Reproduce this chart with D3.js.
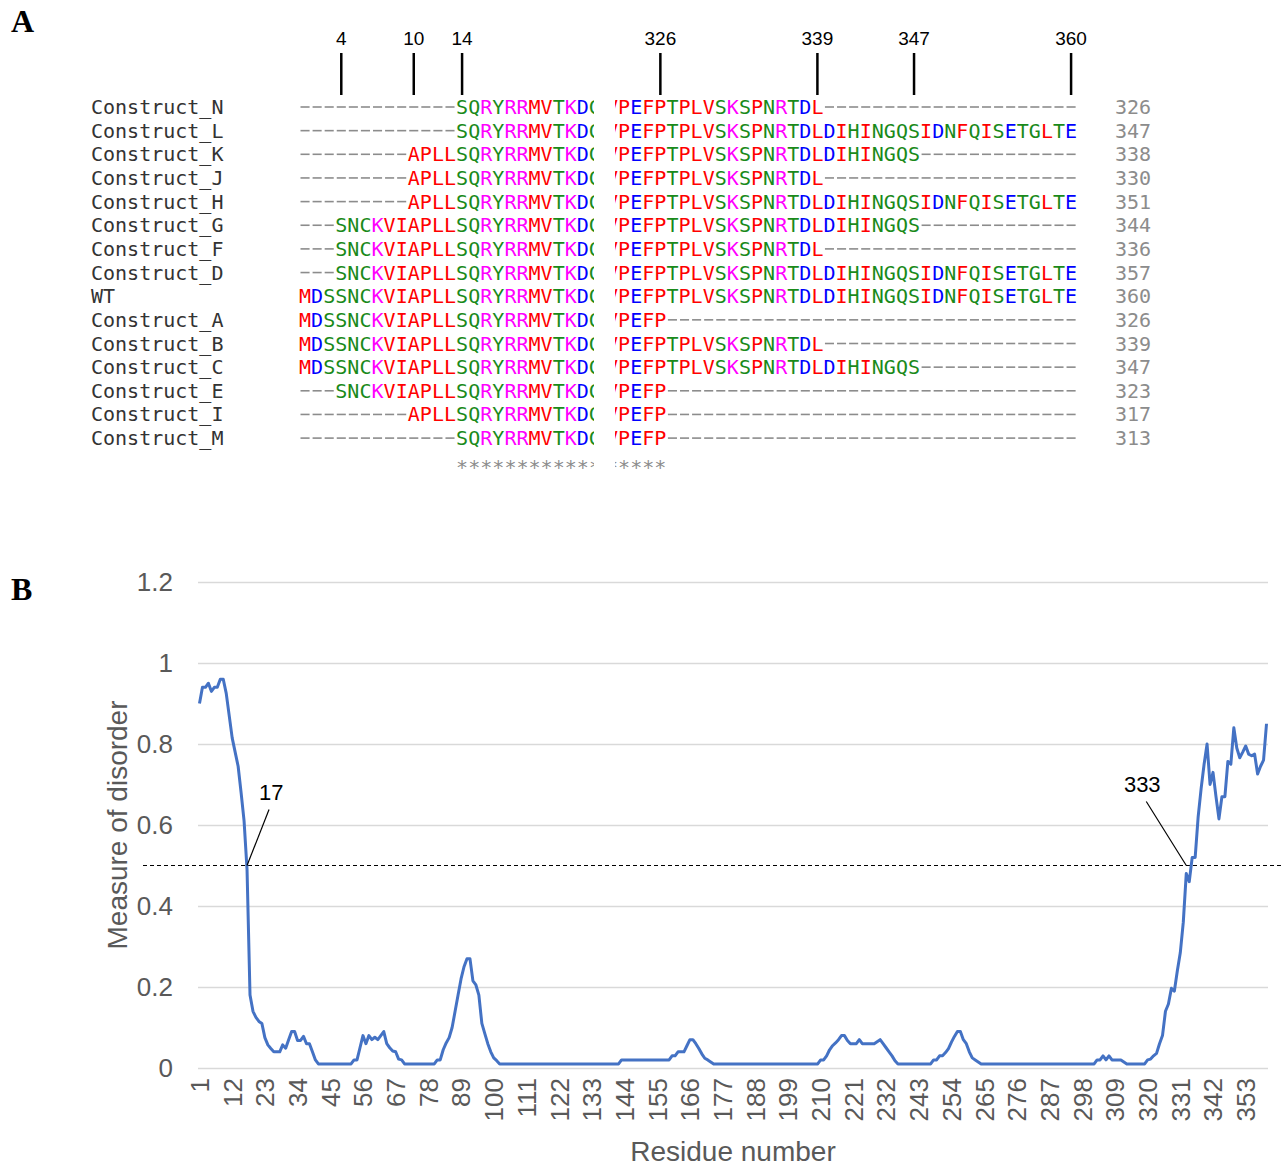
<!DOCTYPE html>
<html>
<head>
<meta charset="utf-8">
<script src="https://cdn.jsdelivr.net/npm/d3@7"></script>
<style>
body { margin: 0; background: #fff; }
</style>
</head>
<body>
<div id="chart"></div>
<script>
// ---- Panel A data: construct alignment ----
var constructNames = ["Construct_N", "Construct_L", "Construct_K", "Construct_J", "Construct_H",
    "Construct_G", "Construct_F", "Construct_D", "WT", "Construct_A", "Construct_B",
    "Construct_C", "Construct_E", "Construct_I", "Construct_M"];
var constructStart = [14, 14, 10, 10, 10, 4, 4, 4, 1, 1, 1, 1, 4, 10, 14];
var constructEnd = [339, 360, 347, 339, 360, 347, 339, 360, 360, 326, 339, 347, 326, 326, 326];
var leftSeq = "MDSSNCKVIAPLLSQRYRRMVTKDG";                 // residues 1-25
var rightSeq = "VPEFPTPLVSKSPNRTDLDIHINGQSIDNFQISETGLTE";  // residues 322-360
var markerResidues = [4, 10, 14, 326, 339, 347, 360];

// ---- Panel B data: disorder profile, residues 1..360 ----
var disorder = [
    0.90, 0.94, 0.94, 0.95, 0.93, 0.94, 0.94, 0.96, 0.96, 0.925,      // 1-10
    0.87, 0.815, 0.78, 0.745, 0.68, 0.61, 0.49, 0.18, 0.14, 0.125,    // 11-20
    0.115, 0.11, 0.075, 0.057, 0.048, 0.04, 0.04, 0.04, 0.057, 0.049, // 21-30
    0.07, 0.09, 0.09, 0.068, 0.068, 0.078, 0.06, 0.06, 0.04, 0.02,    // 31-40
    0.01, 0.01, 0.01, 0.01, 0.01, 0.01, 0.01, 0.01, 0.01, 0.01,       // 41-50
    0.01, 0.01, 0.02, 0.02, 0.05, 0.08, 0.06, 0.08, 0.07, 0.076,      // 51-60
    0.07, 0.08, 0.09, 0.06, 0.05, 0.042, 0.04, 0.022, 0.02, 0.01,     // 61-70
    0.01, 0.01, 0.01, 0.01, 0.01, 0.01, 0.01, 0.01, 0.01, 0.01,       // 71-80
    0.02, 0.02, 0.045, 0.062, 0.075, 0.10, 0.14, 0.18, 0.22, 0.25,    // 81-90
    0.27, 0.27, 0.215, 0.205, 0.18, 0.11, 0.085, 0.06, 0.04, 0.025,   // 91-100
    0.018, 0.01, 0.01, 0.01, 0.01, 0.01, 0.01, 0.01, 0.01, 0.01,      // 101-110
    0.01, 0.01, 0.01, 0.01, 0.01, 0.01, 0.01, 0.01, 0.01, 0.01,       // 111-120
    0.01, 0.01, 0.01, 0.01, 0.01, 0.01, 0.01, 0.01, 0.01, 0.01,       // 121-130
    0.01, 0.01, 0.01, 0.01, 0.01, 0.01, 0.01, 0.01, 0.01, 0.01,       // 131-140
    0.01, 0.01, 0.02, 0.02, 0.02, 0.02, 0.02, 0.02, 0.02, 0.02,       // 141-150
    0.02, 0.02, 0.02, 0.02, 0.02, 0.02, 0.02, 0.02, 0.02, 0.03,       // 151-160
    0.03, 0.04, 0.04, 0.04, 0.055, 0.07, 0.07, 0.06, 0.048, 0.035,    // 161-170
    0.024, 0.02, 0.015, 0.01, 0.01, 0.01, 0.01, 0.01, 0.01, 0.01,     // 171-180
    0.01, 0.01, 0.01, 0.01, 0.01, 0.01, 0.01, 0.01, 0.01, 0.01,       // 181-190
    0.01, 0.01, 0.01, 0.01, 0.01, 0.01, 0.01, 0.01, 0.01, 0.01,       // 191-200
    0.01, 0.01, 0.01, 0.01, 0.01, 0.01, 0.01, 0.01, 0.01, 0.02,       // 201-210
    0.02, 0.03, 0.045, 0.055, 0.062, 0.07, 0.08, 0.08, 0.068, 0.06,   // 211-220
    0.06, 0.06, 0.07, 0.06, 0.06, 0.06, 0.06, 0.06, 0.065, 0.07,      // 221-230
    0.06, 0.05, 0.04, 0.03, 0.018, 0.01, 0.01, 0.01, 0.01, 0.01,      // 231-240
    0.01, 0.01, 0.01, 0.01, 0.01, 0.01, 0.01, 0.02, 0.02, 0.03,       // 241-250
    0.03, 0.038, 0.048, 0.064, 0.078, 0.09, 0.09, 0.07, 0.06, 0.04,   // 251-260
    0.025, 0.02, 0.015, 0.01, 0.01, 0.01, 0.01, 0.01, 0.01, 0.01,     // 261-270
    0.01, 0.01, 0.01, 0.01, 0.01, 0.01, 0.01, 0.01, 0.01, 0.01,       // 271-280
    0.01, 0.01, 0.01, 0.01, 0.01, 0.01, 0.01, 0.01, 0.01, 0.01,       // 281-290
    0.01, 0.01, 0.01, 0.01, 0.01, 0.01, 0.01, 0.01, 0.01, 0.01,       // 291-300
    0.01, 0.01, 0.02, 0.02, 0.03, 0.02, 0.03, 0.02, 0.02, 0.02,       // 301-310
    0.02, 0.015, 0.01, 0.01, 0.01, 0.01, 0.01, 0.01, 0.01, 0.02,      // 311-320
    0.022, 0.03, 0.036, 0.06, 0.08, 0.14, 0.158, 0.197, 0.19, 0.24,   // 321-330
    0.285, 0.36, 0.48, 0.46, 0.52, 0.52, 0.62, 0.69, 0.75, 0.80,      // 331-340
    0.70, 0.73, 0.67, 0.615, 0.67, 0.67, 0.757, 0.75, 0.84, 0.79,     // 341-350
    0.766, 0.78, 0.795, 0.775, 0.771, 0.775, 0.726, 0.745, 0.76, 0.85 // 351-360
];
var yTicks = [0, 0.2, 0.4, 0.6, 0.8, 1, 1.2];
var threshold = 0.5;
var callouts = [
    {residue: 17, label: "17", dx: 22, dy: -56},
    {residue: 333, label: "333", dx: -40, dy: -64}
];

var residues = disorder.map((d, i) => i + 1);
var profile = disorder.map((v, i) => ({residue: i + 1, value: v}));

var svgWidth = 1288;
var svgHeight = 1168;

var svg = d3.select("#chart")
    .append("svg")
    .attr("width", svgWidth)
    .attr("height", svgHeight)
    .style("background", "#fff");

// panel letters
svg.append("text")
    .attr("x", 11).attr("y", 32)
    .attr("font-family", "Liberation Serif, serif")
    .attr("font-weight", "bold")
    .attr("font-size", 32)
    .text("A");
svg.append("text")
    .attr("x", 11).attr("y", 600)
    .attr("font-family", "Liberation Serif, serif")
    .attr("font-weight", "bold")
    .attr("font-size", 32)
    .text("B");

// ================= Panel A =================
var cw = 12.08; // monospace cell width
var leftX = d3.scaleLinear().domain([1, 26]).range([299, 299 + 25 * cw]);
var rightX = d3.scaleLinear().domain([322, 361]).range([606, 606 + 39 * cw]);
var rowY = d3.scaleLinear().domain([0, 1]).range([114, 137.65]);

function aaColor(c) {
    if ("AVFPMILW".indexOf(c) >= 0) return "#ff0000";
    if ("DE".indexOf(c) >= 0) return "#0000ff";
    if ("RK".indexOf(c) >= 0) return "#ff00ff";
    if ("STYHCNGQ".indexOf(c) >= 0) return "#1a8a1a";
    return "#888";
}

var defs = svg.append("defs");
defs.append("clipPath").attr("id", "clipLeft")
    .append("rect").attr("x", 0).attr("y", 0).attr("width", 594).attr("height", 500);
defs.append("clipPath").attr("id", "clipRight")
    .append("rect").attr("x", 615).attr("y", 0).attr("width", 700).attr("height", 500);

var blocks = [
    {seq: leftSeq, first: 1, scale: leftX, clip: "url(#clipLeft)"},
    {seq: rightSeq, first: 322, scale: rightX, clip: "url(#clipRight)"}
];

var alignGroup = svg.append("g")
    .attr("font-family", "DejaVu Sans Mono, monospace")
    .attr("font-size", 20);

// construct names
alignGroup.selectAll(".name")
    .data(constructNames)
    .enter()
    .append("text")
    .attr("class", "name")
    .attr("x", 91)
    .attr("y", (d, i) => rowY(i))
    .attr("fill", "#333")
    .text(d => d);

// lengths
alignGroup.selectAll(".len")
    .data(constructNames)
    .enter()
    .append("text")
    .attr("class", "len")
    .attr("x", 1115)
    .attr("y", (d, i) => rowY(i))
    .attr("fill", "#8c8c8c")
    .text((d, i) => constructEnd[i] - constructStart[i] + 1);

blocks.forEach(function(block) {
    var cells = [];
    constructNames.forEach(function(name, row) {
        for (var k = 0; k < block.seq.length; k++) {
            var r = block.first + k;
            var present = r >= constructStart[row] && r <= constructEnd[row];
            cells.push({row: row, residue: r, ch: present ? block.seq[k] : null});
        }
    });

    var g = alignGroup.append("g").attr("clip-path", block.clip);

    g.selectAll("text.cell")
        .data(cells.filter(d => d.ch))
        .enter()
        .append("text")
        .attr("class", "cell")
        .attr("x", d => block.scale(d.residue) + cw / 2)
        .attr("y", d => rowY(d.row))
        .attr("text-anchor", "middle")
        .attr("fill", d => aaColor(d.ch))
        .text(d => d.ch);

    // gaps
    g.selectAll("line.gap")
        .data(cells.filter(d => !d.ch))
        .enter()
        .append("line")
        .attr("class", "gap")
        .attr("x1", d => block.scale(d.residue) + 1.5)
        .attr("x2", d => block.scale(d.residue) + cw - 1.5)
        .attr("y1", d => rowY(d.row) - 7)
        .attr("y2", d => rowY(d.row) - 7)
        .attr("stroke", "#8c8c8c")
        .attr("stroke-width", 1.6);

    // conservation line
    var cons = [];
    for (var k = 0; k < block.seq.length; k++) {
        var r = block.first + k;
        var all = constructNames.every((n, row) => r >= constructStart[row] && r <= constructEnd[row]);
        if (all) cons.push(r);
    }
    g.selectAll("text.cons")
        .data(cons)
        .enter()
        .append("text")
        .attr("class", "cons")
        .attr("x", d => block.scale(d) + cw / 2)
        .attr("y", rowY(constructNames.length) + 5)
        .attr("text-anchor", "middle")
        .attr("fill", "#8c8c8c")
        .text("*");
});

// residue markers above alignment
function markerX(r) {
    return (r <= 25 ? leftX(r) : rightX(r)) + cw / 2;
}
var markers = svg.append("g").selectAll("g")
    .data(markerResidues)
    .enter()
    .append("g");
markers.append("line")
    .attr("x1", d => markerX(d)).attr("x2", d => markerX(d))
    .attr("y1", 53).attr("y2", 95)
    .attr("stroke", "#000")
    .attr("stroke-width", 2.5);
markers.append("text")
    .attr("x", d => markerX(d))
    .attr("y", 45)
    .attr("text-anchor", "middle")
    .attr("font-family", "Liberation Sans, Arial, sans-serif")
    .attr("font-size", 19)
    .text(d => d);

// ================= Panel B =================
var plot = {left: 198, right: 1268, top: 582, bottom: 1068};

var xScale = d3.scaleBand()
    .domain(residues)
    .range([plot.left, plot.right]);
var half = xScale.bandwidth() / 2;

var yScale = d3.scaleLinear()
    .domain([0, 1.2])
    .range([plot.bottom, plot.top]);

var chartGroup = svg.append("g")
    .attr("font-family", "Liberation Sans, Arial, sans-serif");

// y axis with gridlines
var yAxis = chartGroup.append("g")
    .attr("transform", `translate(${plot.left}, 0)`)
    .call(d3.axisLeft(yScale)
        .tickValues(yTicks)
        .tickSize(-(plot.right - plot.left))
        .tickPadding(25)
        .tickFormat(d3.format("~g")));
yAxis.select(".domain").remove();
yAxis.selectAll("line")
    .attr("stroke", "#d9d9d9")
    .attr("stroke-width", 1.5);
yAxis.selectAll("text")
    .attr("fill", "#595959")
    .attr("font-size", 26)
    .attr("font-family", "Liberation Sans, Arial, sans-serif");

// x axis, every 11th residue
var xTickValues = residues.filter(r => (r - 1) % 11 === 0);
var xAxis = chartGroup.append("g")
    .attr("transform", `translate(0, ${plot.bottom})`)
    .call(d3.axisBottom(xScale)
        .tickValues(xTickValues)
        .tickSize(0));
xAxis.select(".domain").remove();
xAxis.selectAll("text")
    .attr("transform", "rotate(-90)")
    .attr("x", -10)
    .attr("y", 0)
    .attr("dy", "0.36em")
    .style("text-anchor", "end")
    .attr("fill", "#595959")
    .attr("font-size", 26)
    .attr("font-family", "Liberation Sans, Arial, sans-serif");

// axis titles
chartGroup.append("text")
    .attr("transform", `translate(127, ${(plot.top + plot.bottom) / 2}) rotate(-90)`)
    .attr("text-anchor", "middle")
    .attr("fill", "#595959")
    .attr("font-size", 28)
    .text("Measure of disorder");
chartGroup.append("text")
    .attr("x", 733)
    .attr("y", 1161)
    .attr("text-anchor", "middle")
    .attr("fill", "#595959")
    .attr("font-size", 28)
    .text("Residue number");

// threshold
chartGroup.append("line")
    .attr("x1", 143).attr("x2", 1283)
    .attr("y1", yScale(threshold)).attr("y2", yScale(threshold))
    .attr("stroke", "#000")
    .attr("stroke-width", 1)
    .attr("stroke-dasharray", "4,3");

// profile line
var line = d3.line()
    .x(d => xScale(d.residue) + half)
    .y(d => yScale(d.value));
chartGroup.append("path")
    .datum(profile)
    .attr("d", line)
    .attr("fill", "none")
    .attr("stroke", "#4472c4")
    .attr("stroke-width", 3)
    .attr("stroke-linejoin", "round");

// callouts
var callGroup = chartGroup.selectAll(".callout")
    .data(callouts)
    .enter()
    .append("g")
    .attr("class", "callout");
callGroup.append("line")
    .attr("x1", d => xScale(d.residue) + half)
    .attr("y1", yScale(threshold))
    .attr("x2", d => xScale(d.residue) + half + d.dx)
    .attr("y2", d => yScale(threshold) + d.dy)
    .attr("stroke", "#000")
    .attr("stroke-width", 1.2);
callGroup.append("text")
    .attr("x", d => xScale(d.residue) + half + d.dx * 1.1)
    .attr("y", d => yScale(threshold) + d.dy - 10)
    .attr("text-anchor", "middle")
    .attr("font-size", 22)
    .attr("fill", "#000")
    .text(d => d.label);
</script>
</body>
</html>
